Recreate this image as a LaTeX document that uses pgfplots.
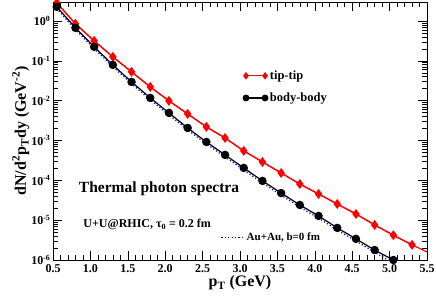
\documentclass[border=0pt]{standalone}
\usepackage{fontspec}
\setmainfont{Liberation Serif}
\usepackage{pgfplots}
\pgfplotsset{compat=1.18}
\begin{document}
\begin{tikzpicture}
\begin{axis}[
  name=ax,
  scale only axis,
  width=374pt, height=258pt,
  xmin=0.5, xmax=5.5,
  ymode=log, ymin=1e-6, ymax=3,
  xtick={0.5,1,...,5.5},
  xticklabels={0.5,1.0,1.5,2.0,2.5,3.0,3.5,4.0,4.5,5.0,5.5},
  minor x tick num=4,
  ytick={1e-6,1e-5,1e-4,1e-3,1e-2,1e-1,1},
  yticklabels={10\textsuperscript{-6},10\textsuperscript{-5},10\textsuperscript{-4},10\textsuperscript{-3},10\textsuperscript{-2},10\textsuperscript{-1},10\textsuperscript{0}},
  tick label style={font=\fontsize{12}{14}\selectfont\bfseries},
  tick align=inside,
  major tick length=9pt, minor tick length=5pt,
  tick style={black, line width=0.6pt},
  axis line style={line width=0.8pt},
  xticklabel style={yshift=-1pt},
  yticklabel style={xshift=1pt},
  xlabel={p\textsubscript{T} (GeV)},
  ylabel={dN/d\textsuperscript{2}p\textsubscript{T}dy (GeV\textsuperscript{-2})},
  label style={font=\fontsize{16}{18}\selectfont\bfseries},
  xlabel style={yshift=4pt},
  ylabel style={yshift=-5pt},
  legend style={draw=none, fill=none, at={(0.5,0.75)}, anchor=north west,
    font=\fontsize{12.5}{14}\selectfont\bfseries, row sep=8pt},
  legend cell align=left,
  legend image code/.code={\draw[mark size=2.8pt] plot coordinates {(0cm,0cm) (0.67cm,0cm)};},
  clip mode=individual,
]
% blue dotted Au+Au
\addplot[blue, line width=1.2pt, dash pattern=on 1.2pt off 2.2pt, forget plot] coordinates {
(0.5,2.9) (0.55,2.05) (0.8,0.61) (1.05,0.203) (1.3,0.0715) (1.55,0.0266) (1.8,0.0105)
(2.05,0.00440) (2.3,0.00185) (2.55,8.2e-4) (2.8,3.87e-4) (3.05,1.82e-4)
(3.3,8.6e-5) (3.55,4.25e-5) (3.8,2.13e-5) (4.05,1.13e-5) (4.3,5.65e-6)
(4.55,3.0e-6) (4.8,1.57e-6) (5.05,8.3e-7)};
% red line
\addplot[red, line width=1.2pt, forget plot] coordinates {
(0.5,3.4) (0.55,2.87) (0.8,0.85) (1.05,0.318) (1.3,0.126) (1.55,0.053) (1.8,0.0222)
(2.05,0.0099) (2.3,0.00466) (2.55,0.0022) (2.8,0.00116) (3.05,5.5e-4)
(3.3,2.9e-4) (3.55,1.53e-4) (3.8,8.1e-5) (4.05,4.55e-5) (4.3,2.55e-5)
(4.55,1.43e-5) (4.8,7.6e-6) (5.05,4.2e-6) (5.3,2.4e-6) (5.5,1.6e-6)};
\addplot[red, line width=1.2pt, mark=diamond*, mark size=4pt, mark options={solid, fill=red}] coordinates {
(0.55,2.87) (0.8,0.85) (1.05,0.318) (1.3,0.126) (1.55,0.053) (1.8,0.0222)
(2.05,0.0099) (2.3,0.00466) (2.55,0.0022) (2.8,0.00116) (3.05,5.5e-4)
(3.3,2.9e-4) (3.55,1.53e-4) (3.8,8.1e-5) (4.05,4.55e-5) (4.3,2.55e-5)
(4.55,1.43e-5) (4.8,7.6e-6) (5.05,4.2e-6) (5.3,2.4e-6)};
\addlegendentry{tip-tip}
\addplot[black, line width=1.2pt, mark=*, mark size=3.6pt] coordinates {
(0.55,2.27) (0.8,0.674) (1.05,0.225) (1.3,0.0792) (1.55,0.0296) (1.8,0.01175)
(2.05,0.00493) (2.3,0.00207) (2.55,9.2e-4) (2.8,4.35e-4) (3.05,2.05e-4)
(3.3,9.7e-5) (3.55,4.8e-5) (3.8,2.41e-5) (4.05,1.28e-5) (4.3,6.4e-6)
(4.55,3.4e-6) (4.8,1.78e-6) (5.05,1.0e-6)};
\addlegendentry{body-body}
\addplot[black, line width=1.2pt, forget plot] coordinates {(0.5,2.9) (0.55,2.27)};
\node[font=\fontsize{15.5}{18}\selectfont\bfseries, anchor=west] at (axis cs:0.8,6.3e-5) {Thermal photon spectra};
\node[font=\fontsize{12}{14}\selectfont\bfseries, anchor=west] at (axis cs:0.86,7.8e-6) {U+U@RHIC, τ\textsubscript{0} = 0.2 fm};
\end{axis}
\begin{axis}[
  scale only axis, width=374pt, height=258pt,
  at={(ax.south west)}, anchor=south west,
  hide axis, xmin=0, xmax=1, ymin=0, ymax=1,
  legend style={draw=none, fill=none, at={(0.44,0.12)}, anchor=north west,
    font=\fontsize{11}{12}\selectfont\bfseries},
  legend image code/.code={\draw[color=blue, line width=1.2pt, dash pattern=on 1.2pt off 2.2pt] (0cm,0cm) -- (0.8cm,0cm);},
]
\addlegendimage{color=blue, line width=1.2pt, dash pattern=on 1.2pt off 2.2pt}
\addlegendentry{Au+Au, b=0 fm}
\end{axis}
\pgfresetboundingbox
\path[use as bounding box] ([xshift=-53pt,yshift=-38pt]ax.south west) rectangle ([xshift=9pt,yshift=2pt]ax.north east);
\end{tikzpicture}
\end{document}
